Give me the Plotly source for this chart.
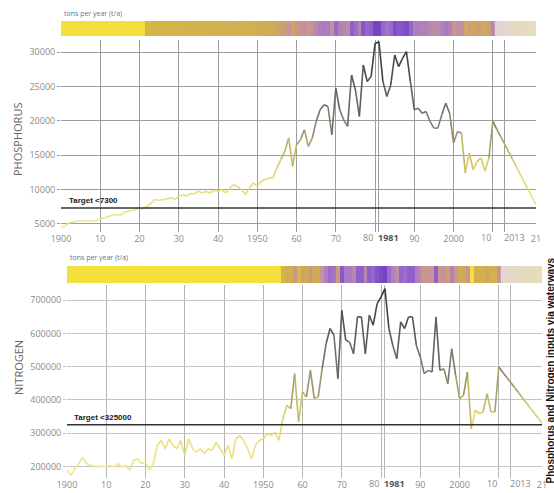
import numpy as np
import plotly.graph_objects as go

W, H = 554, 493

# ---- data -------------------------------------------------------------
years = list(range(1900, 2011)) + [2021]

phosphorus = [
    4420, 4660, 5150, 5240, 5390, 5390, 5390, 5480, 5390, 5480,      # 1900-09
    5630, 5870, 6020, 6260, 6360, 6210, 6600, 6840, 6940, 7080,      # 1910-19
    7230, 7230, 7570, 8050, 8540, 8390, 8540, 8630, 8780, 8540,      # 1920-29
    9020, 9260, 9020, 9410, 9360, 9750, 9500, 9750, 9500, 9890,      # 1930-39
    9750, 9990, 9500, 10230, 10720, 10380, 9990, 9260, 10230, 10960,  # 1940-49
    10470, 11200, 11440, 11690, 11690, 13140, 14350, 15560, 17500, 13380,  # 1950-59
    16530, 17260, 18710, 16290, 17500, 19920, 21620, 22350, 22100, 17980,  # 1960-69
    24770, 21620, 20160, 19200, 26700, 24520, 20650, 28160, 25740, 26460,  # 1970-79
    31300, 31550, 25740, 23560, 25250, 29610, 27920, 29130, 30100, 25740,  # 1980-89
    21620, 21860, 21130, 21380, 19920, 18950, 18950, 20890, 22590, 21130,  # 1990-99
    16770, 18470, 18230, 12410, 15320, 12900, 14110, 14590, 12650, 14590,  # 2000-09
    19920,                                                                  # 2010
    7800,                                                                   # 2021
]

nitrogen = [
    188000, 173000, 193000, 208000, 228000, 208000, 203000, 201000, 198000, 201000,
    198000, 203000, 198000, 208000, 198000, 203000, 188000, 218000, 223000, 208000,
    213000, 188000, 208000, 263000, 278000, 253000, 283000, 263000, 253000, 278000,
    233000, 283000, 253000, 243000, 253000, 238000, 253000, 248000, 273000, 253000,
    233000, 263000, 223000, 283000, 293000, 278000, 253000, 223000, 263000, 278000,
    283000, 298000, 293000, 303000, 278000, 343000, 384000, 374000, 479000, 334000,
    424000, 409000, 489000, 404000, 409000, 494000, 569000, 615000, 595000, 464000,
    670000, 580000, 574000, 539000, 650000, 650000, 539000, 655000, 625000, 690000,
    710000, 735000, 615000, 564000, 524000, 635000, 615000, 650000, 650000, 564000,
    529000, 479000, 489000, 484000, 650000, 489000, 494000, 449000, 554000, 474000,
    404000, 414000, 484000, 313000, 369000, 359000, 364000, 419000, 364000, 364000,
    499000,
    330000,
]

phosphorus_target = 7300
nitrogen_target = 325000

tick_years = [1900, 1910, 1920, 1930, 1940, 1950, 1960, 1970, 1980, 1981,
              1990, 2000, 2010, 2013, 2021]
tick_text = ["1900", "10", "20", "30", "40", "1950", "60", "70", "80",
             "<b><span style='color:#555'>1981</span></b>",
             "90", "2000", "10", "2013", "21"]
# close pairs of ticks whose labels are set side by side instead of centred
paired_left = {1980, 2010}
paired_right = {1981, 2013}

phosphorus_ticks = [5000, 10000, 15000, 20000, 25000, 30000]
nitrogen_ticks = [200000, 300000, 400000, 500000, 600000, 700000]

unit_label = "tons per year (t/a)"
side_title = "Phosphorus and Nitrogen inputs via waterways"

# ---- colour helpers ---------------------------------------------------
LINE_STOPS = [(0.0, "#efe890"), (0.30, "#e3d96c"), (0.42, "#bcb362"),
              (0.55, "#858272"), (0.72, "#5e5e5e"), (1.0, "#343434")]
STRIP_BELOW = "#f4df3c"
STRIP_STOPS = [(0.0, "#d6b844"), (0.22, "#cfa85a"), (0.42, "#c8929a"),
               (0.62, "#a87cc4"), (0.82, "#8c5ccc"), (1.0, "#7444c4")]
PALE_BASE = "#eeede8"


def hex2rgb(h):
    return tuple(int(h[i:i + 2], 16) for i in (1, 3, 5))


def mix(c1, c2, t):
    return tuple(c1[k] + (c2[k] - c1[k]) * t for k in range(3))


def css(c):
    return "rgb(%d,%d,%d)" % tuple(int(round(v)) for v in c)


def ramp(stops, u):
    u = min(max(u, 0.0), 1.0)
    for (p0, c0), (p1, c1) in zip(stops, stops[1:]):
        if u <= p1:
            t = 0.0 if p1 == p0 else (u - p0) / (p1 - p0)
            return mix(hex2rgb(c0), hex2rgb(c1), t)
    return hex2rgb(stops[-1][1])


def strip_scale(vmin, vmax, target, pale=0.0):
    f = (target - vmin) / (vmax - vmin)
    base = hex2rgb(PALE_BASE)
    items = [(0.0, STRIP_BELOW), (f, STRIP_BELOW)]
    for p, c in STRIP_STOPS:
        pos = min(f + 1e-4, 1.0) if p == 0 else f + (1 - f) * p
        items.append((pos, c))
    return [[pos, css(mix(hex2rgb(c), base, pale))] for pos, c in items]


# ---- figure -----------------------------------------------------------
fig = go.Figure()


def add_strip(vals, target, xa, ya):
    measured_x = [y for y in years if y <= 2010]
    measured_v = vals[:len(measured_x)]
    vmin, vmax = min(vals), max(vals)
    fig.add_trace(go.Heatmap(
        x=measured_x, y=[0], z=[measured_v], zmin=vmin, zmax=vmax,
        colorscale=strip_scale(vmin, vmax, target), showscale=False,
        xaxis=xa, yaxis=ya, hoverinfo="skip"))
    gap_x = list(range(2011, 2022))
    gap_v = np.interp(gap_x, [2010, 2021], [measured_v[-1], vals[-1]])
    fig.add_trace(go.Heatmap(
        x=gap_x, y=[0], z=[list(gap_v)], zmin=vmin, zmax=vmax,
        colorscale=strip_scale(vmin, vmax, target, pale=0.72), showscale=False,
        xaxis=xa, yaxis=ya, hoverinfo="skip"))


def add_line(xs, vs, xa, ya, nbins=30):
    vmin, vmax = min(vs), max(vs)
    groups = {}
    for i in range(len(xs) - 1):
        n = max(1, int(round(xs[i + 1] - xs[i])))
        for k in range(n):
            a, b = k / n, (k + 1) / n
            x0 = xs[i] + (xs[i + 1] - xs[i]) * a
            x1 = xs[i] + (xs[i + 1] - xs[i]) * b
            v0 = vs[i] + (vs[i + 1] - vs[i]) * a
            v1 = vs[i] + (vs[i + 1] - vs[i]) * b
            u = ((v0 + v1) / 2 - vmin) / (vmax - vmin)
            key = int(round(u * nbins))
            gx, gy = groups.setdefault(key, ([], []))
            gx += [x0, x1, None]
            gy += [v0, v1, None]
    for key in sorted(groups):
        gx, gy = groups[key]
        fig.add_trace(go.Scatter(
            x=gx, y=gy, mode="lines",
            line=dict(color=css(ramp(LINE_STOPS, key / nbins)), width=1.6),
            xaxis=xa, yaxis=ya, hoverinfo="skip", showlegend=False))


add_strip(phosphorus, phosphorus_target, "x2", "y2")
add_line(years, phosphorus, "x", "y")
add_strip(nitrogen, nitrogen_target, "x4", "y4")
add_line(years, nitrogen, "x3", "y3")


def ydom(top_px, bottom_px):
    return [1 - bottom_px / H, 1 - top_px / H]


xdom_top = [61 / W, 536 / W]
xdom_bot = [67 / W, 542 / W]
xrange = [1900, 2021]

tickfont = dict(family="Open Sans, sans-serif", size=9, color="#8a8a8a")

axis_text = [("" if y in paired_left | paired_right else t)
             for y, t in zip(tick_years, tick_text)]

plot_x = dict(range=xrange, tickmode="array", tickvals=tick_years, ticktext=axis_text,
              tickangle=0, showgrid=True, zeroline=False, showline=False, ticks="",
              tickfont=tickfont, fixedrange=True, automargin=False)
strip_x = dict(range=xrange, visible=False, fixedrange=True, automargin=False)
strip_y = dict(range=[-0.5, 0.5], visible=False, fixedrange=True, automargin=False)

fig.update_layout(
    width=W, height=H,
    margin=dict(l=0, r=0, t=0, b=0),
    paper_bgcolor="white", plot_bgcolor="white",
    showlegend=False,
    xaxis=dict(plot_x, domain=xdom_top, anchor="y", gridcolor="#9c9c9c"),
    yaxis=dict(domain=ydom(40, 232), anchor="x", range=[3800, 31800],
               tickmode="array", tickvals=phosphorus_ticks,
               ticktext=[str(v) for v in phosphorus_ticks],
               showgrid=True, gridcolor="#9c9c9c", zeroline=False,
               ticks="outside", ticklen=3, tickcolor="#9c9c9c",
               tickfont=tickfont, fixedrange=True, automargin=False),
    xaxis2=dict(strip_x, domain=xdom_top, anchor="y2"),
    yaxis2=dict(strip_y, domain=ydom(21, 36), anchor="x2"),
    xaxis3=dict(plot_x, domain=xdom_bot, anchor="y3", gridcolor="#b4b4b4"),
    yaxis3=dict(domain=ydom(285, 478), anchor="x3", range=[165000, 746000],
                tickmode="array", tickvals=nitrogen_ticks,
                ticktext=[str(v) for v in nitrogen_ticks],
                showgrid=True, gridcolor="#c4c4c4", zeroline=False,
                ticks="outside", ticklen=3, tickcolor="#c4c4c4",
                tickfont=tickfont, fixedrange=True, automargin=False),
    xaxis4=dict(strip_x, domain=xdom_bot, anchor="y4"),
    yaxis4=dict(strip_y, domain=ydom(266, 283), anchor="x4"),
)

# side-by-side labels for the close tick pairs
for xref, yref in (("x", "y domain"), ("x3", "y3 domain")):
    for y, t in zip(tick_years, tick_text):
        if y in paired_left:
            fig.add_annotation(x=y, y=0, xref=xref, yref=yref, text=t, showarrow=False,
                               xanchor="right", yanchor="top", xshift=-1, yshift=2,
                               borderpad=0, font=tickfont)
        elif y in paired_right:
            fig.add_annotation(x=y, y=0, xref=xref, yref=yref, text=t, showarrow=False,
                               xanchor="left", yanchor="top", xshift=-2, yshift=2,
                               borderpad=0, font=tickfont)

# target lines
for yref, xref, target in (("y", "x domain", phosphorus_target),
                           ("y3", "x3 domain", nitrogen_target)):
    fig.add_shape(type="line", xref=xref, yref=yref, x0=0, x1=1, y0=target, y1=target,
                  line=dict(color="#333333", width=1.5), layer="above")

label_font = dict(family="Liberation Sans, Arial, sans-serif", size=8, color="#222222")
fig.add_annotation(x=1901.5, y=phosphorus_target, xref="x", yref="y",
                   text="<b>Target &lt;%d</b>" % phosphorus_target, showarrow=False,
                   xanchor="left", yanchor="bottom", yshift=1, font=label_font)
fig.add_annotation(x=1901.3, y=nitrogen_target, xref="x3", yref="y3",
                   text="<b>Target &lt;%d</b>" % nitrogen_target, showarrow=False,
                   xanchor="left", yanchor="bottom", yshift=1, font=label_font)

unit_font = dict(family="Open Sans, sans-serif", size=7, color="#6a7090")
fig.add_annotation(x=62 / W, y=1 - 13 / H, xref="paper", yref="paper", text=unit_label,
                   showarrow=False, xanchor="left", yanchor="middle", font=unit_font)
fig.add_annotation(x=68 / W, y=1 - 257 / H, xref="paper", yref="paper", text=unit_label,
                   showarrow=False, xanchor="left", yanchor="middle", font=unit_font)

title_font = dict(family="Open Sans, sans-serif", size=11, color="#666666")
fig.add_annotation(x=18 / W, y=1 - 140 / H, xref="paper", yref="paper", text="PHOSPHORUS",
                   textangle=-90, showarrow=False, xanchor="center", yanchor="middle",
                   font=title_font)
fig.add_annotation(x=18 / W, y=1 - 368 / H, xref="paper", yref="paper", text="NITROGEN",
                   textangle=-90, showarrow=False, xanchor="center", yanchor="middle",
                   font=title_font)

fig.add_annotation(x=549.5 / W, y=1 - 371 / H, xref="paper", yref="paper",
                   text="<b>%s</b>" % side_title, textangle=-90, showarrow=False,
                   xanchor="center", yanchor="middle", borderpad=0,
                   font=dict(family="Liberation Sans, Arial, sans-serif", size=10,
                             color="#111111"))

fig.write_html("out.html")
